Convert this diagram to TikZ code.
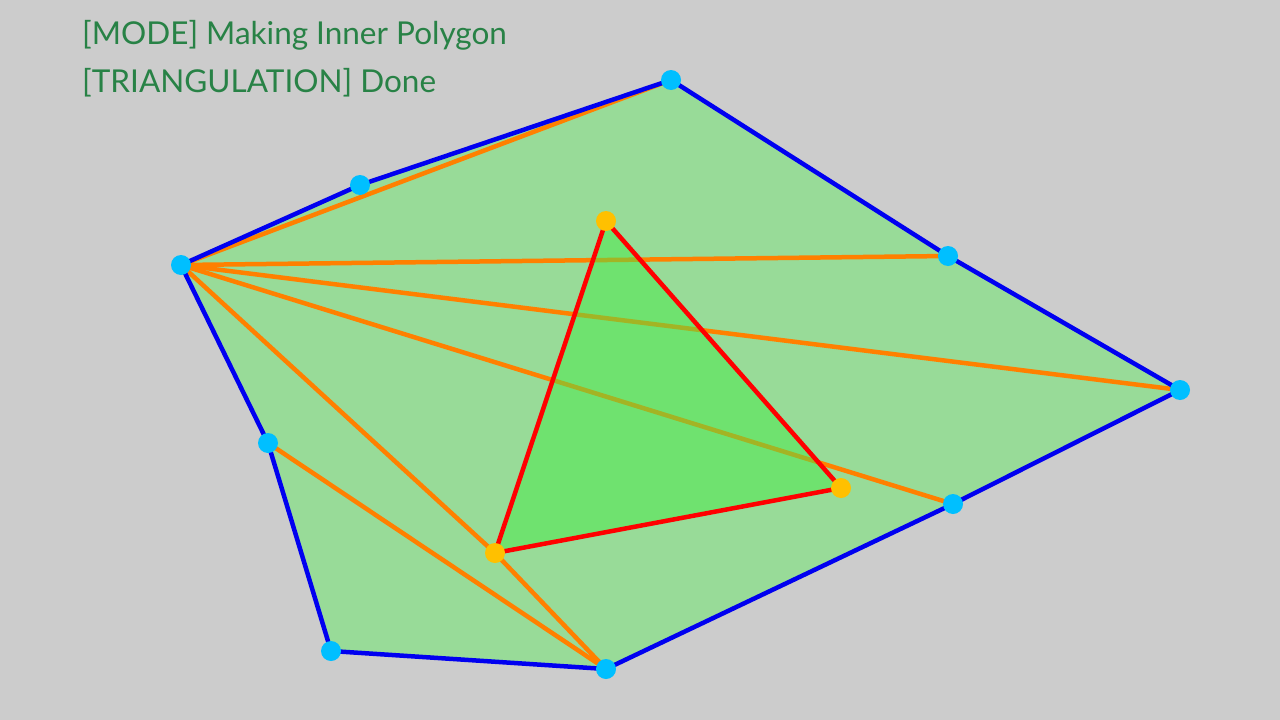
\documentclass[tikz,border=0pt]{standalone}
\usepackage{fontspec}
\setmainfont{Lato}
\usepackage{tikz}
\usetikzlibrary{positioning, calc}
\definecolor{fond}{RGB}{204,204,204}
\definecolor{vertclair}{RGB}{152,219,152}
\definecolor{vertvif}{RGB}{72,233,72}
\definecolor{orange}{RGB}{255,128,0}
\definecolor{bleu}{RGB}{0,0,240}
\definecolor{cyan}{RGB}{0,191,255}
\definecolor{jaune}{RGB}{255,192,0}
\definecolor{texte}{RGB}{40,130,70}
\tikzset{
  outer/.style={circle, fill=cyan, inner sep=0pt, minimum size=20pt},
  inner/.style={circle, fill=jaune, inner sep=0pt, minimum size=20pt},
  diag/.style={draw=orange, line width=4.5pt},
  bord/.style={draw=bleu, line width=4.5pt},
  rouge/.style={draw=red, line width=4.5pt},
  label/.style={anchor=base west, inner sep=0pt, text=texte, font=\fontsize{31.5}{36}\selectfont}
}

\begin{document}
\begin{tikzpicture}[x=1pt, y=-1pt]
				\fill[fond] (0,0) rectangle (1280,720);
				\useasboundingbox (0,0) rectangle (1280,720);
				
				% polygone exterieur
				\coordinate (a) at (181,265);
				\coordinate (b) at (360,185);
				\coordinate (c) at (671,80);
				\coordinate (d) at (948,256);
				\coordinate (e) at (1180,390);
				\coordinate (f) at (953,504);
				\coordinate (g) at (606,669);
				\coordinate (h) at (331,651);
				\coordinate (i) at (268,443);
				% triangle interieur
				\coordinate (p) at (606,221);
				\coordinate (q) at (841,488);
				\coordinate (r) at (495,553);
				
				\fill[vertclair] (a) -- (b) -- (c) -- (d) -- (e) -- (f) -- (g) -- (h) -- (i) -- cycle;
				
				\draw[diag] (a) -- (c);
				\draw[diag] (a) -- (d);
				\draw[diag] (a) -- (e);
				\draw[diag] (a) -- (f);
				\draw[diag] (a) -- (r);
				\draw[diag] (r) -- (g);
				\draw[diag] (i) -- (g);
				
				\fill[vertvif, opacity=0.5] (p) -- (q) -- (r) -- cycle;
				\draw[rouge, line join=round] (p) -- (q) -- (r) -- cycle;
				
				\draw[bord, line join=round] (a) -- (b) -- (c) -- (d) -- (e) -- (f) -- (g) -- (h) -- (i) -- cycle;
				
				\foreach \v in {a,b,c,d,e,f,g,h,i}
					\node[outer] (n\v) at (\v) {};
				\foreach \v in {p,q,r}
					\node[inner] (n\v) at (\v) {};
				
				\node[label] (mode) at (82,44) {[MODE] Making Inner Polygon};
				\node[label] (tri) at (82,92) {[TRIANGULATION] Done};
			\end{tikzpicture}
\end{document}
